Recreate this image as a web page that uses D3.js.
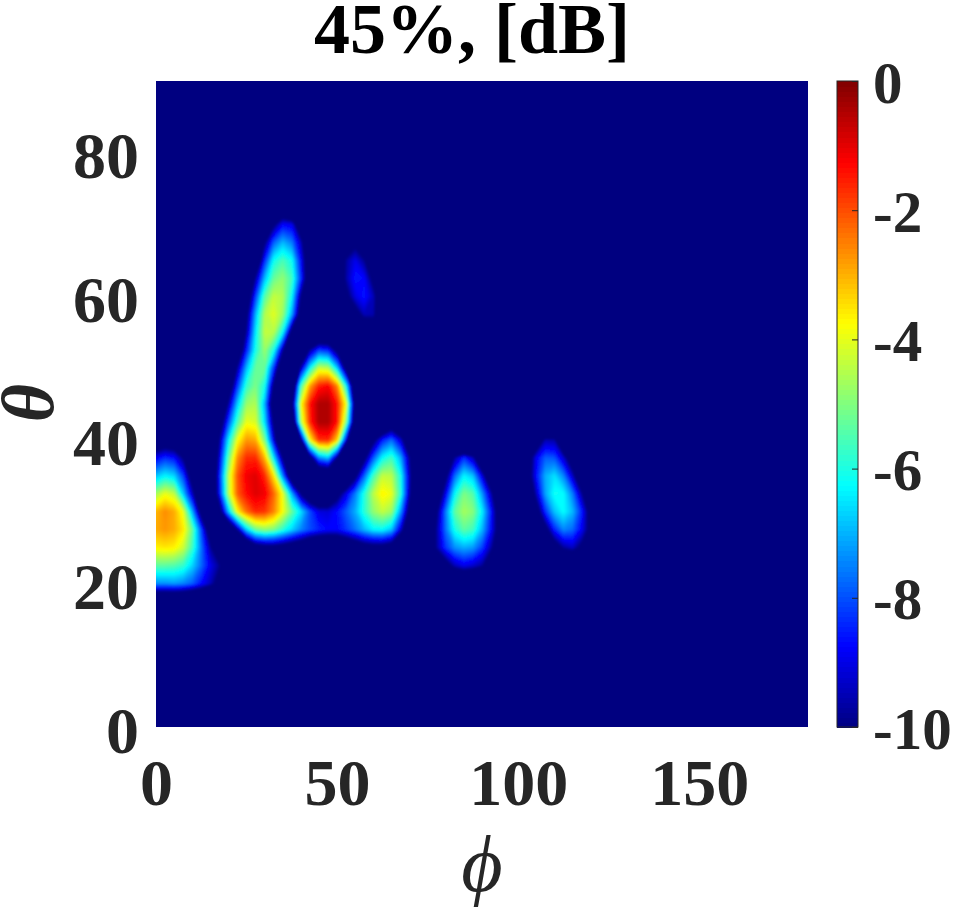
<!DOCTYPE html>
<html>
<head>
<meta charset="utf-8">
<script src="https://cdnjs.cloudflare.com/ajax/libs/d3/7.8.5/d3.min.js"></script>
<style>
html, body { margin: 0; padding: 0; background: #fff; }
svg { display: block; }
text { font-family: "Liberation Serif", serif; font-weight: bold; fill: #262626; }
</style>
</head>
<body>
<svg id="chart" width="958" height="907"></svg>
<script>
var phiValues = d3.range(0, 122.5, 2.5);
var thetaValues = d3.range(75, 12.5, -2.5);
var floorDb = -16;
// [theta, first phi, values in dB going up in phi].
// anything under -10 is the clipped floor, only used to place the blob edges
var gainRuns = [
  [72.5, 32.5, [-14.6,-12.2,-13.4]],
  [70, 30, [-14.6,-10.2,-8.7,-8.9,-11.6,-16]],
  [67.5, 27.5, [-14,-10.1,-7.8,-6.9,-7.5,-9.4,-12.8]],
  [67.5, 52.5, [-11.6,-10.4,-12.2]],
  [65, 27.5, [-12.2,-8.4,-6.1,-5.5,-6.1,-8.7,-11.6]],
  [65, 50, [-12.8,-9.7,-8.9,-9.8,-13.4]],
  [62.5, 25, [-13.4,-9.7,-6.9,-5.2,-4.8,-5.6,-8.3,-11.6,-15.2]],
  [62.5, 50, [-12.8,-9.6,-8.5,-8.7,-10.4,-13.4]],
  [60, 25, [-11.6,-8.2,-5.4,-4.3,-4.5,-6.2,-10,-13.4]],
  [60, 50, [-14,-10.4,-9,-8.5,-9.4,-11.6]],
  [57.5, 25, [-10.4,-7,-4.5,-4,-4.7,-7.1,-11,-15.2]],
  [57.5, 52.5, [-13.4,-10.7,-9.4,-9.5,-12.2]],
  [55, 22.5, [-12.8,-9.7,-6.4,-4.3,-4.4,-6.2,-10.7,-14.6]],
  [55, 42.5, [-15,-13,-13,-15]],
  [55, 57.5, [-12,-11.4,-14]],
  [52.5, 22.5, [-11.9,-8.5,-6,-4.7,-6,-9.7,-13.4]],
  [52.5, 40, [-12.8,-9.7,-8.1,-8.4,-10.4,-13.4]],
  [50, 22.5, [-9.7,-6.9,-5.2,-5.2,-8.3,-12.2]],
  [50, 40, [-9.5,-6.2,-4.2,-4.4,-6.7,-10.7,-14.6]],
  [47.5, 20, [-11.6,-8.2,-5.7,-5,-6,-10.3,-14,-12.5,-5.6,-2.8,-1.5,-1.2,-2.5,-6.2,-12.2]],
  [45, 17.5, [-12.8,-9.7,-6.7,-4.7,-4.5,-7,-11.6,-16,-10.9,-3.9,-1.4,-0.4,-0.4,-1.4,-3.9,-11]],
  [42.5, 17.5, [-11.3,-8.1,-5.5,-3.9,-4.1,-6.5,-10.3,-14,-12.8,-4.6,-1.6,-0.4,-0.4,-1.4,-5,-11.6]],
  [42.5, 62.5, [-13.4,-11.6,-13.4]],
  [40, 0, [-11.9,-11.3,-11.6,-12.8,-14.6]],
  [40, 15, [-12.8,-9.9,-6.4,-3.8,-2.7,-2.9,-5,-9.1,-12.8,-16,-10.4,-3.8,-1.7,-1.6,-3.3,-9.1,-14,-13.4,-10.4,-8.5,-7.7,-9.1,-12.2]],
  [40, 105, [-11.6,-9.5,-9.6,-12.8]],
  [37.5, 0, [-8.8,-8.3,-8.6,-10,-12.8,-16,-12.8,-9.2,-5.3,-2.6,-1.6,-1.6,-3,-6.4,-10.1,-13.4,-16,-10.7,-7.4,-6.8,-10,-14,-13.4,-10.4,-7.9,-6.2,-5.6,-7,-9.8,-13]],
  [37.5, 80, [-13.4,-9.7,-8.3,-9.4,-12.8]],
  [37.5, 102.5, [-11.3,-8.8,-7.8,-7.9,-9.2,-11.3]],
  [35, 0, [-6.8,-6.3,-6.6,-8.1,-11,-14.6,-12.8,-8.6,-4.4,-2,-1.1,-0.9,-1.6,-3.5,-7.5,-11.6,-16,-16,-12.5,-12.2,-14,-12.8,-10.4,-7.8,-5.6,-4.3,-4.4,-6,-9.4,-13]],
  [35, 77.5, [-14,-10.4,-7.7,-6.3,-6.8,-9,-12.2]],
  [35, 102.5, [-11,-8.6,-7,-6.5,-7.4,-9.3,-12.2]],
  [32.5, 0, [-4.6,-3.9,-4.3,-6.7,-9.3,-12.5,-12.5,-8.8,-4.5,-2.1,-1.3,-0.9,-1.1,-2.2,-3.9,-7.1,-10,-11.9,-12.8,-12.5,-10.6,-9,-7.5,-5.9,-4.4,-3.6,-3.9,-5.8,-9.6,-13]],
  [32.5, 77.5, [-11.6,-8.9,-6.2,-5,-5.4,-7.2,-9.5,-12.8]],
  [32.5, 102.5, [-12.2,-9.4,-7.1,-6.1,-6.2,-7.5,-9.7,-12.2]],
  [30, 0, [-3,-2.6,-2.9,-3.9,-7,-10.7,-14,-10.9,-6.9,-3.7,-2.3,-1.6,-1.7,-2.5,-3.8,-5.2,-6.5,-8,-9,-9.1,-8.6,-7.8,-7,-5.8,-4.8,-4.3,-4.7,-7.2,-10.6,-13.4,-12.8,-10.2,-7.5,-5.3,-4.6,-4.9,-6.3,-8.5,-11.3,-14.6]],
  [30, 102.5, [-14,-11,-8.3,-6.8,-6.2,-6.9,-8.4,-10.7]],
  [27.5, 0, [-2.9,-2.7,-2.9,-3.5,-5.2,-8.1,-11.4,-14,-12.5,-9.7,-6.7,-5.2,-4.8,-5,-5.8,-6.6,-7.4,-8,-8.4,-8.7,-8.7,-8.2,-7.6,-6.9,-6.3,-6.2,-6.8,-9.1,-12.2,-14.6,-12.2,-9.7,-7.6,-6,-5.3,-5.6,-6.9,-8.7,-10.9,-14]],
  [27.5, 105, [-14.6,-10.6,-8.4,-7.4,-7.7,-8.8,-10.5]],
  [25, 0, [-3.6,-3.5,-3.6,-4.2,-5.6,-7.6,-9.7,-12.2,-15.2,-16,-12.8,-11,-10.6,-10.6,-10.8,-11.2,-11.6,-12.4,-12.8,-12.8,-12.6,-12,-11.4,-10.8,-10.6,-10.6,-11,-13.4,-16,-16,-12.2,-9.7,-8.2,-7.3,-7,-7.2,-8.1,-9.6,-11.6,-15.2]],
  [25, 107.5, [-14.6,-11,-9.7,-9.3,-10.3,-12.2]],
  [22.5, 0, [-5.3,-5.3,-5.4,-5.7,-6.6,-7.7,-8.9,-9.8,-12.8,-16]],
  [22.5, 77.5, [-12.8,-10.7,-9.4,-8.9,-9.2,-9.7,-11.6,-15.2]],
  [22.5, 112.5, [-12.8,-12.8,-14]],
  [20, 0, [-7.3,-7.3,-7.2,-7.4,-7.8,-8.6,-9.4,-10.6,-12.5,-16]],
  [20, 82.5, [-13.4,-12.8,-13,-14]],
  [17.5, 0, [-13,-13,-13,-13,-13.4,-13.4,-14,-15,-16]]
];
var phiTicks = [0,50,100,150];
var thetaTicks = [0,20,40,60,80];
var barTicks = [0,-2,-4,-6,-8,-10];
var titleText = "45%, [dB]";

var nCols = phiValues.length, nRows = thetaValues.length;
var gainDb = new Array(nCols * nRows).fill(floorDb);
gainRuns.forEach(function(r) {
  var row = thetaValues.indexOf(r[0]), col = phiValues.indexOf(r[1]);
  r[2].forEach(function(v, i) { gainDb[row * nCols + col + i] = v; });
});

var svg = d3.select("#chart");

var x = d3.scaleLinear().domain([0, 180]).range([156, 808]);
var y = d3.scaleLinear().domain([0, 90]).range([727, 81]);
var barY = d3.scaleLinear().domain([-10, 0]).range([727, 81]);

var jet = d3.scaleLinear()
  .domain([-10, -8.75, -6.25, -3.75, -1.25, 0])
  .range(["#000080", "#0000ff", "#00ffff", "#ffff00", "#ff0000", "#800000"])
  .clamp(true);

var defs = svg.append("defs");
defs.append("clipPath").attr("id", "plotclip").append("rect")
  .attr("x", x(0)).attr("y", y(90))
  .attr("width", x(180) - x(0)).attr("height", y(0) - y(90));
defs.append("filter").attr("id", "soft")
  .attr("x", "-5%").attr("y", "-5%").attr("width", "110%").attr("height", "110%")
  .append("feGaussianBlur").attr("stdDeviation", 1);

var plot = svg.append("g").attr("clip-path", "url(#plotclip)");
plot.append("rect")
  .attr("x", x(0)).attr("y", y(90))
  .attr("width", x(180) - x(0)).attr("height", y(0) - y(90))
  .attr("fill", jet(-10));

// d3.contours puts grid nodes on i + .5
var colToPhi = d3.scaleLinear().domain([0.5, nCols - 0.5]).range([phiValues[0], phiValues[nCols - 1]]);
var rowToTheta = d3.scaleLinear().domain([0.5, nRows - 0.5]).range([thetaValues[0], thetaValues[nRows - 1]]);

var path = d3.geoPath(d3.geoTransform({
  point: function(cx, cy) {
    this.stream.point(x(colToPhi(cx)), y(rowToTheta(cy)));
  }
}));

var levels = d3.range(0, 128).map(function(i) { return -10 + i * 10 / 128; });
var contours = d3.contours()
  .size([nCols, nRows])
  .smooth(true)
  .thresholds(levels)(gainDb);

plot.append("g").attr("filter", "url(#soft)")
  .selectAll("path")
  .data(contours)
  .enter().append("path")
  .attr("d", path)
  .attr("fill", function(d) { return jet(d.value); });

// colorbar
var bar = svg.append("g");
bar.selectAll("rect")
  .data(levels)
  .enter().append("rect")
  .attr("x", 837)
  .attr("width", 21)
  .attr("y", function(d) { return barY(d + 10 / 128); })
  .attr("height", barY(-10) - barY(-10 + 10 / 128) + 1)
  .attr("shape-rendering", "crispEdges")
  .attr("fill", function(d) { return jet(d + 5 / 128); });
bar.append("rect")
  .attr("x", 837).attr("y", barY(0))
  .attr("width", 21).attr("height", barY(-10) - barY(0))
  .attr("fill", "none").attr("stroke", "#262626").attr("stroke-width", 1);

var barAxis = svg.append("g")
  .attr("transform", "translate(858,0)")
  .call(d3.axisRight(barY).tickValues(barTicks).tickSize(-6).tickFormat(function(d) { return d; }));
barAxis.select(".domain").remove();
barAxis.selectAll("line").attr("stroke", "#262626");
barAxis.selectAll("text")
  .attr("x", 15).attr("dy", null)
  .attr("y", 21)
  .style("font-size", "59px")
  .attr("text-anchor", "start");

// axes
var xAxis = svg.append("g")
  .attr("transform", "translate(0,727)")
  .call(d3.axisBottom(x).tickValues(phiTicks).tickSize(0).tickFormat(d3.format("d")));
xAxis.select(".domain").remove();
xAxis.selectAll("text").attr("dy", null).attr("y", 78).style("font-size", "66px");

var yAxis = svg.append("g")
  .attr("transform", "translate(156,0)")
  .call(d3.axisLeft(y).tickValues(thetaTicks).tickSize(0).tickFormat(d3.format("d")));
yAxis.select(".domain").remove();
yAxis.selectAll("text").attr("dy", null).attr("x", -17).attr("y", 25).style("font-size", "66px");

svg.append("text")
  .attr("x", 472).attr("y", 53)
  .attr("text-anchor", "middle")
  .style("font-size", "72px")
  .style("fill", "#000")
  .text(titleText);

svg.append("text")
  .attr("x", 482).attr("y", 891)
  .attr("text-anchor", "middle")
  .style("font-size", "80px")
  .style("font-style", "italic")
  .style("font-weight", "normal")
  .text("\u03d5");

svg.append("text")
  .attr("transform", "translate(53,403) rotate(-90)")
  .attr("text-anchor", "middle")
  .style("font-size", "74px")
  .style("font-style", "italic")
  .text("\u03b8");
</script>
</body>
</html>
